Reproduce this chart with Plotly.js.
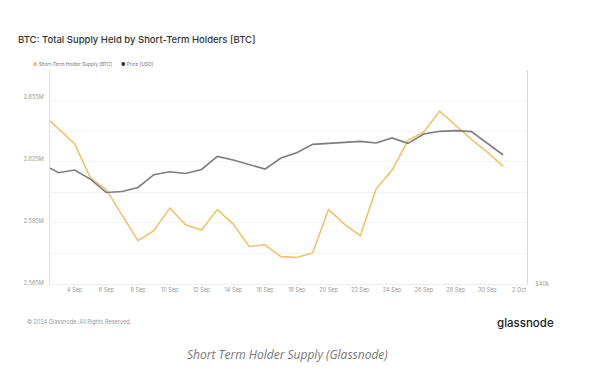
<!DOCTYPE html>
<html>
<head>
<meta charset="utf-8">
<script src="https://cdn.plot.ly/plotly-3.0.1.min.js"></script>
<style>
html,body{margin:0;padding:0;background:#fff;}
#chart{width:600px;height:375px;}
</style>
</head>
<body>
<div id="chart"></div>
<script>
const dates = ['2024-09-02','2024-09-03','2024-09-04','2024-09-05','2024-09-06','2024-09-07','2024-09-08','2024-09-09','2024-09-10','2024-09-11','2024-09-12','2024-09-13','2024-09-14','2024-09-15','2024-09-16','2024-09-17','2024-09-18','2024-09-19','2024-09-20','2024-09-21','2024-09-22','2024-09-23','2024-09-24','2024-09-25','2024-09-26','2024-09-27','2024-09-28','2024-09-29','2024-09-30','2024-10-01'];
const sthSupply = [2646600,2639700,2632400,2615900,2610300,2597900,2585600,2590400,2601400,2593300,2590700,2600600,2593600,2582800,2583600,2577900,2577500,2579700,2600600,2593600,2588000,2610600,2619500,2634000,2638000,2648100,2641300,2634400,2628300,2621400];
const priceUsd = [59600,58200,58640,57160,54970,55130,55790,57870,58360,58080,58740,60870,60280,59510,58800,60600,61480,62840,63000,63280,63330,63070,63890,63000,64540,64970,65080,64920,63000,61100];
const seriesNames = ['Short-Term Holder Supply [BTC]', 'Price [USD]'];
const leftTickVals = [2565000,2595000,2625000,2655000];
const leftTickText = ['2.565M','2.595M','2.625M','2.655M'];
const rightTickVals = [40000,45000,50000,55000,60000,65000,70000,75000];
const rightTickText = ['$40k','','','','','','',''];

const orange = '#f2c26b';
const grey = '#7d7d7d';
const fontFam = 'Inter, "Noto Sans", sans-serif';

const traces = [
  {x: dates, y: sthSupply, name: seriesNames[0], type: 'scatter', mode: 'lines',
   line: {color: orange, width: 1.6}, yaxis: 'y'},
  {x: dates, y: priceUsd, name: seriesNames[1], type: 'scatter', mode: 'lines',
   line: {color: grey, width: 1.6}, yaxis: 'y2'}
];

const layout = {
  width: 600, height: 375,
  margin: {l: 50, r: 73, t: 70, b: 91},
  paper_bgcolor: '#fff', plot_bgcolor: '#fff',
  font: {family: fontFam, color: '#888', size: 5.5},
  title: {text: 'BTC: Total Supply Held by Short-Term Holders [BTC]', x: 0.03, xanchor: 'left', y: 0.895, yanchor: 'middle',
          font: {family: fontFam, size: 9.5, color: '#333', weight: 500}},
  showlegend: false,
  xaxis: {type: 'date', range: ['2024-09-02 11:00','2024-10-02 12:00'],
          tick0: '2024-09-04', dtick: 2*86400000, tickformat: '%-d %b',
          showgrid: false, zeroline: false, showline: true, linecolor: '#eeeeee', linewidth: 1,
          ticks: '', ticklen: 0, tickfont: {size: 5.5, color: '#999'}},
  yaxis: {range: [2564700, 2667900], tickmode: 'array', tickvals: leftTickVals, ticktext: leftTickText,
          showgrid: false, zeroline: false, showline: true, linecolor: '#f8dfb5', linewidth: 1.2,
          ticks: '', tickfont: {size: 5.5, color: '#999'}, ticklabelstandoff: 4},
  yaxis2: {overlaying: 'y', side: 'right', range: [40000, 75000], tickmode: 'array',
           tickvals: rightTickVals, ticktext: rightTickText,
           showgrid: true, gridcolor: '#f4f4f4', gridwidth: 1, zeroline: false,
           showline: true, linecolor: '#d6d6d6', linewidth: 1.2, ticks: '',
           tickfont: {size: 5.5, color: '#999'}, ticklabelstandoff: 6},
  annotations: [
    {text: '<span style="color:' + orange + '">●</span> ' + seriesNames[0], xref: 'paper', yref: 'paper',
     x: -0.04, y: 1.028, xanchor: 'left', yanchor: 'middle', showarrow: false,
     font: {size: 4.8, color: '#777', family: fontFam}},
    {text: '<span style="color:#333">●</span> ' + seriesNames[1], xref: 'paper', yref: 'paper',
     x: 0.144, y: 1.028, xanchor: 'left', yanchor: 'middle', showarrow: false,
     font: {size: 4.8, color: '#777', family: fontFam}},
    {text: '© 2024 Glassnode. All Rights Reserved.', xref: 'paper', yref: 'paper', x: -0.053, y: -0.175,
     xanchor: 'left', yanchor: 'middle', showarrow: false, font: {size: 5.5, color: '#999', family: fontFam}},
    {text: 'glassnode', xref: 'paper', yref: 'paper', x: 1.06, y: -0.18,
     xanchor: 'right', yanchor: 'middle', showarrow: false, font: {size: 11.5, color: '#222', family: fontFam, weight: 500}},
    {text: '<i>Short Term Holder Supply (Glassnode)</i>', xref: 'paper', yref: 'paper', x: 0.497, y: -0.33,
     xanchor: 'center', yanchor: 'middle', showarrow: false, font: {size: 12, color: '#777', family: '"Open Sans", "Noto Sans", sans-serif'}}
  ]
};

Plotly.newPlot('chart', traces, layout, {displayModeBar: false, staticPlot: true});
</script>
</body>
</html>
